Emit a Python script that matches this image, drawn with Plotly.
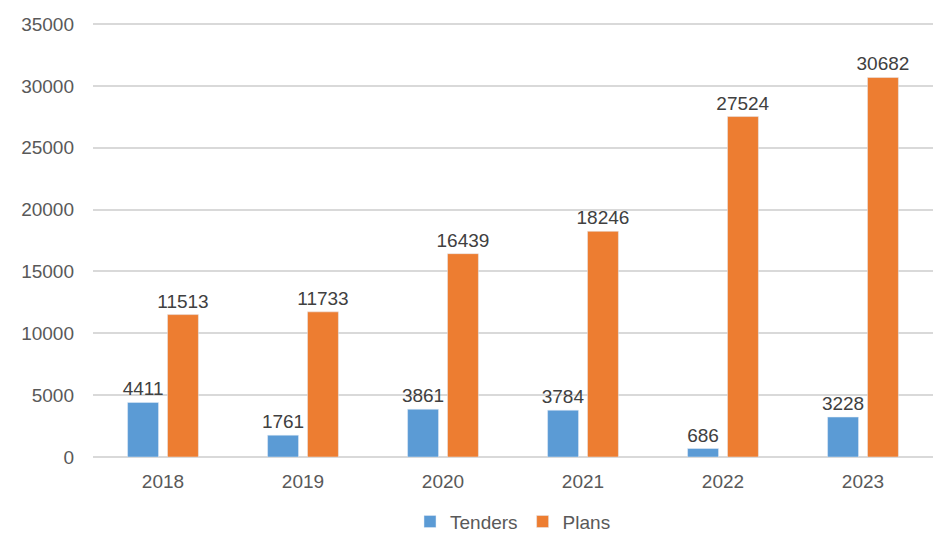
import plotly.graph_objects as go

years = ["2018", "2019", "2020", "2021", "2022", "2023"]
tenders = [4411, 1761, 3861, 3784, 686, 3228]
plans = [11513, 11733, 16439, 18246, 27524, 30682]

font_family = "Liberation Sans, Arial, sans-serif"
label_color = "#404040"
tick_color = "#595959"

fig = go.Figure()
fig.add_trace(go.Bar(
    x=years, y=tenders, name="Tenders",
    marker=dict(color="#5B9BD5"),
    text=[str(v) for v in tenders], textposition="outside",
    constraintext="none",
    textfont=dict(size=19, color=label_color, family=font_family),
    cliponaxis=False,
))
fig.add_trace(go.Bar(
    x=years, y=plans, name="Plans",
    marker=dict(color="#ED7D31"),
    text=[str(v) for v in plans], textposition="outside",
    constraintext="none",
    textfont=dict(size=19, color=label_color, family=font_family),
    cliponaxis=False,
))

fig.update_layout(
    width=945, height=540,
    margin=dict(l=85, r=20, t=12, b=91, autoexpand=False),
    paper_bgcolor="white", plot_bgcolor="white",
    barmode="group", bargap=0.43, bargroupgap=0.225,
    font=dict(family=font_family, size=19, color=tick_color),
    showlegend=True,
    legend=dict(orientation="h", x=0.5, xanchor="center", y=-0.148, yanchor="middle",
                font=dict(size=19, color=tick_color), itemwidth=30,
                traceorder="normal"),
)
fig.update_xaxes(showgrid=False, showline=False, ticks="", automargin=False,
                 tickfont=dict(size=19, color=tick_color), ticklabelstandoff=11)
fig.update_yaxes(range=[0, 35330], dtick=5000, showgrid=True, gridcolor="#D9D9D9", gridwidth=1.5,
                 zeroline=True, zerolinecolor="#D9D9D9", zerolinewidth=1.5, automargin=False,
                 tickfont=dict(size=19, color=tick_color), ticks="", ticklabelstandoff=18,
                 tickformat="d")

fig.write_html("out.html")
